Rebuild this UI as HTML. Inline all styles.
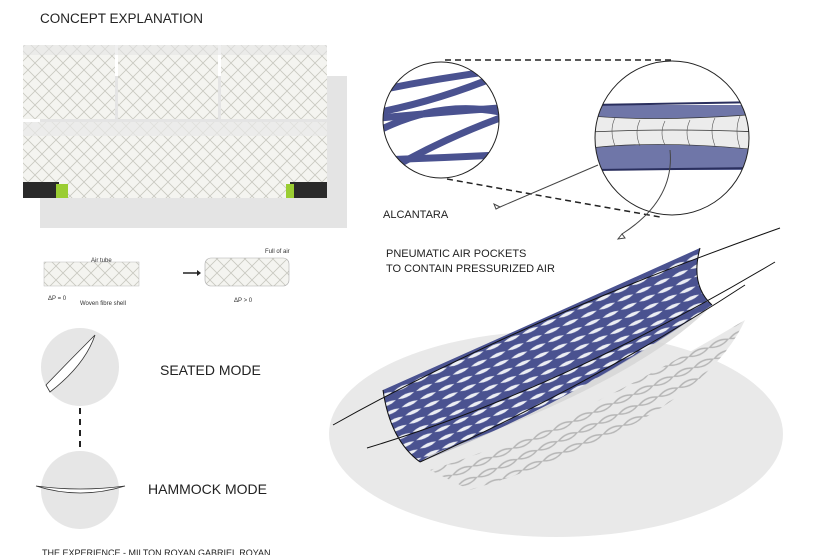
<!DOCTYPE html>
<html><head><meta charset="utf-8"><style>
html,body{margin:0;padding:0;background:#fff;}
body{width:840px;height:555px;overflow:hidden;font-family:"Liberation Sans",sans-serif;}
</style></head><body>
<svg width="840" height="555" viewBox="0 0 840 555" xmlns="http://www.w3.org/2000/svg" font-family="Liberation Sans, sans-serif">
<defs>
<pattern id="mesh" width="20" height="9" patternUnits="userSpaceOnUse" patternTransform="rotate(-24)">
<rect width="20" height="9" fill="#4a5290"/>
<path d="M1,4.5 Q10,1 19,4.5 Q10,8 1,4.5Z" fill="#eceef4"/>
</pattern>
<pattern id="sh" width="22" height="12" patternUnits="userSpaceOnUse" patternTransform="rotate(-24)">
<rect width="22" height="12" fill="#e9e9e9"/>
<path d="M1,6 Q11,1 21,6 Q11,11 1,6Z" fill="none" stroke="#b5b5b5" stroke-width="1.4"/>
</pattern>
<pattern id="wv" width="14" height="14" patternUnits="userSpaceOnUse">
<rect width="14" height="14" fill="#f4f4f0"/>
<path d="M0,0 L14,14 M14,0 L0,14" stroke="#c8c8c0" stroke-width="0.8"/>
</pattern>
</defs>
<text x="40" y="23" font-size="13.5" fill="#222">CONCEPT EXPLANATION</text>
<rect x="40" y="76" width="307" height="152" fill="#e4e4e4"/>
<rect x="23" y="45" width="92" height="74" fill="url(#wv)"/>
<rect x="118" y="45" width="100" height="74" fill="url(#wv)"/>
<rect x="221" y="45" width="106" height="74" fill="url(#wv)"/>
<rect x="23" y="45" width="304" height="10" fill="#e4e4e4" opacity="0.6"/>
<rect x="23" y="122" width="304" height="76" fill="url(#wv)"/>
<rect x="23" y="122" width="304" height="14" fill="#e8e8e8" opacity="0.7"/>
<rect x="23" y="182" width="36" height="16" fill="#2a2a2a"/><rect x="56" y="184" width="12" height="14" fill="#9acd32"/>
<rect x="290" y="182" width="37" height="16" fill="#2a2a2a"/><rect x="286" y="184" width="8" height="14" fill="#9acd32"/>
<!-- small tubes -->
<rect x="44" y="262" width="95" height="24" fill="url(#wv)" stroke="#bbb" stroke-width="0.5"/>
<text x="91" y="262" font-size="6" fill="#333">Air tube</text>
<text x="48" y="300" font-size="6" fill="#333">ΔP = 0</text>
<text x="80" y="305" font-size="6" fill="#333">Woven fibre shell</text>
<path d="M183,273 L197,273" stroke="#222" stroke-width="1.5"/><path d="M197,270 L201,273 L197,276Z" fill="#222"/>
<rect x="205" y="258" width="84" height="28" rx="6" fill="url(#wv)" stroke="#aaa" stroke-width="0.6"/>
<text x="265" y="253" font-size="6" fill="#333">Full of air</text>
<text x="234" y="302" font-size="6" fill="#333">ΔP &gt; 0</text>
<!-- modes -->
<circle cx="80" cy="367" r="39" fill="#e6e6e6"/>
<path d="M46,385 Q70,360 95,335 Q85,365 50,392Z" fill="#fff" stroke="#333" stroke-width="0.8"/>
<line x1="80" y1="408" x2="80" y2="450" stroke="#222" stroke-width="2" stroke-dasharray="6,5"/>
<text x="160" y="375" font-size="14" fill="#222">SEATED MODE</text>
<circle cx="80" cy="490" r="39" fill="#e6e6e6"/>
<path d="M36,486 Q80,500 125,486 Q80,492 36,486Z" fill="#fff" stroke="#333" stroke-width="0.8"/>
<text x="148" y="494" font-size="14" fill="#222">HAMMOCK MODE</text>
<text x="42" y="556" font-size="9" fill="#222">THE EXPERIENCE - MILTON ROYAN GABRIEL ROYAN</text>
<!-- zoom circles -->
<line x1="445" y1="60" x2="672" y2="60" stroke="#222" stroke-width="1.5" stroke-dasharray="6,4"/>
<line x1="447" y1="179" x2="660" y2="217" stroke="#222" stroke-width="1.5" stroke-dasharray="6,4"/>
<clipPath id="c1"><circle cx="441" cy="120" r="58"/></clipPath>
<circle cx="441" cy="120" r="58" fill="#fff"/>
<g clip-path="url(#c1)" stroke="#4a5290" stroke-width="7" fill="none">
<path d="M380,90 Q440,78 500,70"/><path d="M380,112 Q440,100 500,75"/>
<path d="M380,118 Q440,112 500,108"/><path d="M380,130 Q440,100 500,112"/>
<path d="M380,175 Q440,140 500,118"/><path d="M380,160 Q440,158 500,155"/>
</g>
<circle cx="441" cy="120" r="58" fill="none" stroke="#222" stroke-width="1"/>
<clipPath id="c2"><circle cx="672" cy="138" r="77"/></clipPath>
<circle cx="672" cy="138" r="77" fill="#fff"/>
<g clip-path="url(#c2)">
<rect x="590" y="105" width="170" height="65" fill="#6f76a8"/>
<path d="M590,116 Q660,122 760,114 L760,150 Q660,140 590,148Z" fill="#ececec" stroke="#333" stroke-width="0.7"/>
<path d="M590,132 Q670,128 760,132" stroke="#333" fill="none" stroke-width="0.8"/>
<g stroke="#555" fill="none" stroke-width="0.6">
<path d="M615,118 q-6,12 0,28"/><path d="M640,120 q-6,12 0,26"/><path d="M665,121 q-6,12 0,24"/><path d="M690,120 q-6,12 0,26"/><path d="M715,118 q-6,12 0,28"/><path d="M740,116 q-6,14 0,32"/>
</g>
<path d="M590,105 L760,102" stroke="#2a2f5e" stroke-width="2"/><path d="M590,170 L760,168" stroke="#2a2f5e" stroke-width="2"/>
</g>
<circle cx="672" cy="138" r="77" fill="none" stroke="#222" stroke-width="1"/>
<path d="M598,165 Q540,190 500,207" stroke="#444" fill="none"/><path d="M500,207 l-6,-3 l2,5z" fill="none" stroke="#444"/>
<path d="M670,150 Q675,200 622,234" stroke="#444" fill="none"/><path d="M622,234 l-4,5 l7,-1z" fill="none" stroke="#444"/>
<text x="383" y="218" font-size="11" fill="#222">ALCANTARA</text>
<text x="386" y="257" font-size="11" fill="#222">PNEUMATIC AIR POCKETS</text>
<text x="386" y="272" font-size="11" fill="#222">TO CONTAIN PRESSURIZED AIR</text>
<!-- base -->
<ellipse cx="556" cy="434" rx="227" ry="103" fill="#e9e9e9"/>
<path d="M430,470 Q560,430 745,320 Q700,420 470,490Z" fill="url(#sh)"/>
<!-- hammock -->
<path d="M383,390 Q540,320 700,248 Q690,285 712,305 Q580,400 420,462 Q390,440 383,390Z" fill="url(#mesh)"/>
<path d="M420,462 Q560,410 712,305 Q640,380 430,455Z" fill="#d5d5d5" opacity="0.8"/>
<path d="M700,248 Q700,290 718,300 L750,288 Q730,270 700,248Z" fill="#fff"/>
<g stroke="#111" fill="none" stroke-width="1">
<path d="M333,425 Q520,320 780,228"/>
<path d="M367,448 Q560,390 775,262"/>
<path d="M383,390 Q390,440 420,462"/>
<path d="M700,248 Q690,285 712,305"/>
<path d="M420,462 Q600,380 745,285"/>
</g>
</svg>
</body></html>
